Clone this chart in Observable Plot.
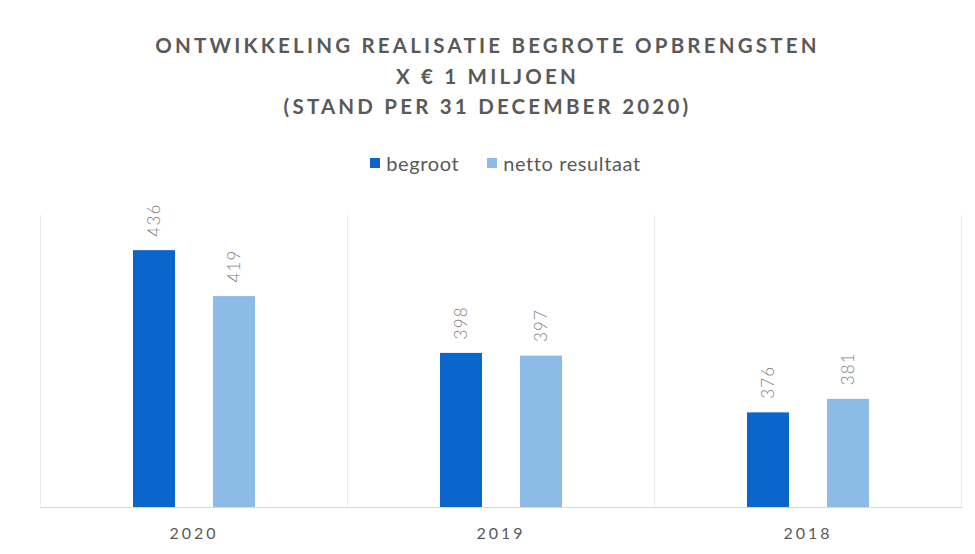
<!DOCTYPE html>
<html>
<head>
<meta charset="utf-8">
<script src="https://cdn.jsdelivr.net/npm/d3@7"></script>
<script src="https://cdn.jsdelivr.net/npm/@observablehq/plot@0.6"></script>
<style>
  html, body { margin: 0; padding: 0; background: #ffffff; }
  #wrap { width: 975px; height: 554px; position: relative; overflow: hidden; font-family: Lato, "Open Sans", sans-serif; }
  #head { position: relative; width: 975px; height: 185px; }
  #title { position: absolute; left: 0; top: 30px; width: 975px; text-align: center; color: #595959;
           font-weight: 700; font-size: 20.5px; letter-spacing: 3.2px; line-height: 30.5px; }
  #legend { position: absolute; left: 18px; top: 153px; width: 975px; display: flex; justify-content: center;
            gap: 28px; color: #595959; font-size: 20px; letter-spacing: 0.6px; line-height: 20px; }
  .item { display: flex; align-items: center; gap: 6px; }
  .sw { width: 10px; height: 10px; display: inline-block; }
  #chart svg { display: block; }
  #chart svg [aria-label^="fx-axis"] text { letter-spacing: 3px; font-weight: 400; }
  #chart svg g[aria-label="text"] text { letter-spacing: 1.2px; }
</style>
</head>
<body>
<div id="wrap">
  <div id="head">
    <div id="title"></div>
    <div id="legend"></div>
  </div>
  <div id="chart"></div>
</div>
<script>
const titleLines = ["ONTWIKKELING REALISATIE BEGROTE OPBRENGSTEN", "X € 1 MILJOEN", "(STAND PER 31 DECEMBER 2020)"];
const years = ["2020", "2019", "2018"];
const series = ["begroot", "netto resultaat"];
const begroot = [436, 398, 376];
const netto = [419, 397, 381];
const colors = ["#0a66cc", "#8dbbe8"];

document.getElementById("title").innerHTML = titleLines.map(t => `<div>${t}</div>`).join("");
document.getElementById("legend").innerHTML = series.map((s, i) =>
  `<span class="item"><span class="sw" style="background:${colors[i]}"></span><span>${s}</span></span>`).join("");

const data = years.flatMap((y, i) => [
  {year: y, series: series[0], value: begroot[i]},
  {year: y, series: series[1], value: netto[i]}
]);

const chart = Plot.plot({
  width: 975,
  height: 369,
  marginLeft: 40,
  marginRight: 14,
  marginTop: 30,
  marginBottom: 47,
  style: {fontFamily: "Lato, 'Open Sans', sans-serif", fontSize: "16px", color: "#595959", background: "transparent"},
  fx: {domain: years, padding: 0, label: null, axis: "bottom", tickSize: 0, tickPadding: 20},
  x: {domain: series, paddingInner: 0.475, paddingOuter: 1.156, axis: null},
  y: {domain: [341, 449], clamp: true, axis: null},
  color: {domain: series, range: colors},
  marks: [
    Plot.frame({anchor: "left", stroke: "#e6ebf2"}),
    Plot.frame({anchor: "right", stroke: "#e6ebf2"}),
    Plot.frame({anchor: "bottom", stroke: "#d9d9d9"}),
    Plot.barY(data, {fx: "year", x: "series", y: "value", fill: "series"}),
    Plot.text(data, {fx: "year", x: "series", y: "value", text: d => String(d.value),
      rotate: -90, textAnchor: "start", dy: -14, fill: "#7f7f7f", fontSize: 17, fontWeight: 300})
  ]
});
document.getElementById("chart").appendChild(chart);
</script>
</body>
</html>
